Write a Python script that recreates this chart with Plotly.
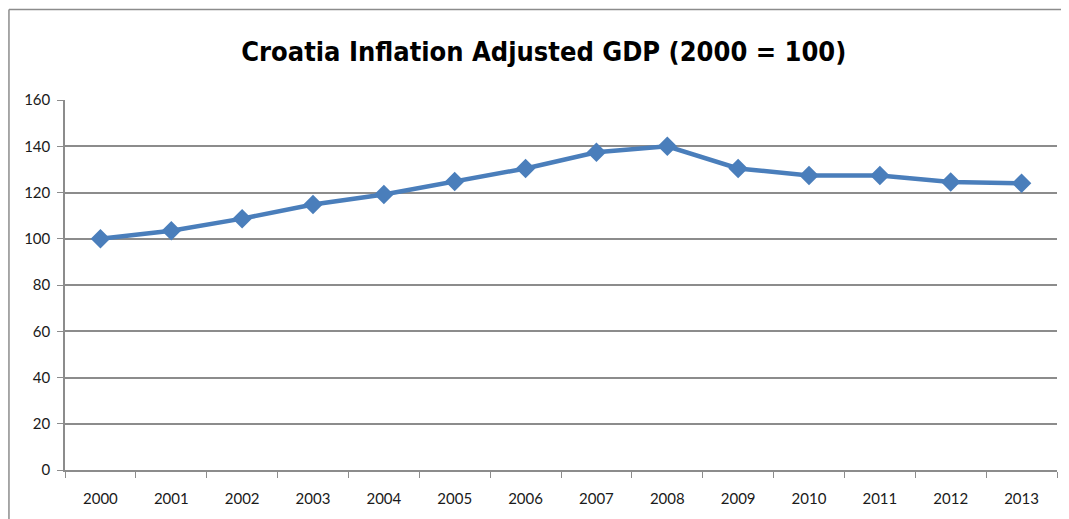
import plotly.graph_objects as go

years = ["2000", "2001", "2002", "2003", "2004", "2005", "2006",
         "2007", "2008", "2009", "2010", "2011", "2012", "2013"]
gdp = [100, 103.5, 108.7, 114.8, 119.1, 124.8, 130.4,
       137.4, 140, 130.4, 127.4, 127.4, 124.5, 124]
y_ticks = [0, 20, 40, 60, 80, 100, 120, 140, 160]

line_col = "#4a7ebb"
grid_col = "#8c8c8c"
tick_font = dict(family="Lato, Open Sans, sans-serif", size=15, color="#1a1a1a")

fig = go.Figure()
fig.add_trace(go.Scatter(
    x=years, y=gdp, mode="lines+markers",
    line=dict(color=line_col, width=4.5),
    marker=dict(symbol="diamond", size=15, color=line_col),
    showlegend=False,
))

# page body has an 8px margin, so the figure is sized to fit the window
fig.update_layout(
    width=1061, height=511,
    margin=dict(l=57, r=12, t=92, b=43),
    paper_bgcolor="white", plot_bgcolor="white",
    title=dict(
        text="<b>Croatia Inflation Adjusted GDP (2000 = 100)</b>",
        x=0.505, xanchor="center", y=0.914, yanchor="middle",
        font=dict(family="DejaVu Sans Condensed, sans-serif", size=27, color="black"),
    ),
)

fig.update_xaxes(
    type="category", range=[-0.5, 13.5],
    showline=True, linecolor=grid_col, linewidth=1.5,
    ticks="outside", tickson="boundaries", ticklen=6, tickcolor=grid_col,
    showgrid=False, tickfont=tick_font, ticklabelstandoff=14,
)
fig.update_yaxes(
    range=[0, 160], tickvals=y_ticks,
    showline=True, linecolor=grid_col, linewidth=1.5,
    ticks="outside", ticklen=6, tickcolor=grid_col,
    showgrid=True, gridcolor=grid_col, gridwidth=1.5,
    zeroline=False, tickfont=tick_font, ticklabelstandoff=4,
)

# outer chart border: only the left and top edges show in the frame
fig.add_shape(type="line", xref="paper", yref="paper",
              x0=-0.0565, x1=-0.0565, y0=-0.3, y1=1.2446,
              line=dict(color="#8c8c8c", width=1.5), layer="below")
fig.add_shape(type="line", xref="paper", yref="paper",
              x0=-0.0565, x1=1.05, y0=1.2446, y1=1.2446,
              line=dict(color="#8c8c8c", width=1.5), layer="below")

fig.write_html("out.html")
